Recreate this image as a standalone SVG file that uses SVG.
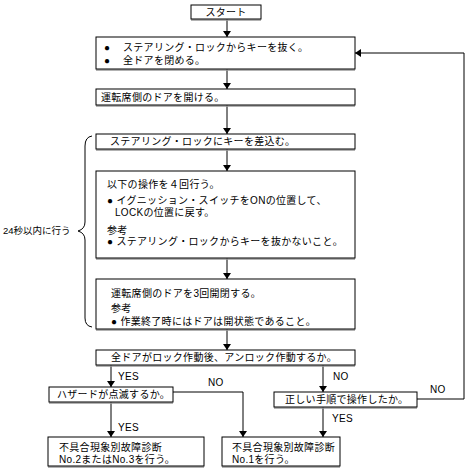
<svg xmlns="http://www.w3.org/2000/svg" width="467" height="470" viewBox="0 0 467 470">
<style>
.b{fill:#fff;stroke:#000;stroke-width:1}
.sh{stroke:#999;stroke-width:1.5;fill:none}
.t{font-family:"Liberation Sans","Noto Sans CJK JP",sans-serif;font-size:10px;fill:#000;letter-spacing:0.3px}
.l{fill:none;stroke:#000;stroke-width:1}
</style>
<defs>
<marker id="ah" viewBox="0 0 10 10" refX="10" refY="5" markerWidth="6" markerHeight="8" markerUnits="userSpaceOnUse" orient="auto" preserveAspectRatio="none">
<path d="M0,0 L10,5 L0,10 Z" fill="#000"/>
</marker>
</defs>
<rect width="467" height="470" fill="#fff"/>
<g id="connectors">
<line class="l" x1="227" y1="19" x2="227" y2="37" marker-end="url(#ah)"/>
<line class="l" x1="227" y1="69" x2="227" y2="89" marker-end="url(#ah)"/>
<line class="l" x1="227" y1="105" x2="227" y2="134" marker-end="url(#ah)"/>
<line class="l" x1="227" y1="149" x2="227" y2="171" marker-end="url(#ah)"/>
<line class="l" x1="227" y1="258" x2="227" y2="279" marker-end="url(#ah)"/>
<line class="l" x1="227" y1="329" x2="227" y2="350" marker-end="url(#ah)"/>
<line class="l" x1="111" y1="365" x2="111" y2="387" marker-end="url(#ah)"/>
<line class="l" x1="111" y1="402" x2="111" y2="437" marker-end="url(#ah)"/>
<polyline class="l" points="173,392 243,392 243,437" marker-end="url(#ah)"/>
<line class="l" x1="323" y1="365" x2="323" y2="392" marker-end="url(#ah)"/>
<line class="l" x1="323" y1="407" x2="323" y2="437" marker-end="url(#ah)"/>
<polyline class="l" points="417,399 464,399 464,53 355,53" marker-end="url(#ah)"/>
<text class="t" x="118" y="380">YES</text>
<text class="t" x="118" y="431">YES</text>
<text class="t" x="208" y="386">NO</text>
<text class="t" x="333" y="380">NO</text>
<text class="t" x="430" y="393">NO</text>
<text class="t" x="332" y="422">YES</text>
</g>
<g id="start">
<line class="sh" x1="191" y1="20" x2="261" y2="20"/>
<rect class="b" x="191" y="5" width="70" height="14"/>
<text class="t" x="226" y="15.5" text-anchor="middle">スタート</text>
</g>
<g id="n1">
<line class="sh" x1="96" y1="70" x2="355" y2="70"/>
<rect class="b" x="96" y="37" width="259" height="32"/>
<text class="t" x="104" y="50.5">●</text>
<text class="t" x="123" y="50.5">ステアリング・ロックからキーを抜く。</text>
<text class="t" x="104" y="63.5">●</text>
<text class="t" x="123" y="63.5">全ドアを閉める。</text>
</g>
<g id="n2">
<line class="sh" x1="96" y1="106" x2="355" y2="106"/>
<rect class="b" x="96" y="89" width="259" height="16"/>
<text class="t" x="101" y="100.5">運転席側のドアを開ける。</text>
</g>
<g id="n3">
<line class="sh" x1="96" y1="150" x2="355" y2="150"/>
<rect class="b" x="96" y="134" width="259" height="15"/>
<text class="t" x="110" y="145">ステアリング・ロックにキーを差込む。</text>
</g>
<g id="n4">
<line class="sh" x1="96" y1="259" x2="355" y2="259"/>
<rect class="b" x="96" y="171" width="259" height="87"/>
<text class="t" x="107" y="188">以下の操作を４回行う。</text>
<text class="t" x="107" y="203.5">● イグニッション・スイッチをONの位置して、</text>
<text class="t" x="115" y="215.5">LOCKの位置に戻す。</text>
<text class="t" x="107" y="234">参考</text>
<text class="t" x="107" y="245">● ステアリング・ロックからキーを抜かないこと。</text>
</g>
<g id="n5">
<line class="sh" x1="96" y1="330" x2="355" y2="330"/>
<rect class="b" x="96" y="279" width="259" height="50"/>
<text class="t" x="111" y="297">運転席側のドアを3回開閉する。</text>
<text class="t" x="111" y="311.5">参考</text>
<text class="t" x="111" y="324.5">● 作業終了時にはドアは開状態であること。</text>
</g>
<g id="n6">
<line class="sh" x1="96" y1="366" x2="355" y2="366"/>
<rect class="b" x="96" y="350" width="259" height="15"/>
<text class="t" x="111" y="361">全ドアがロック作動後、アンロック作動するか。</text>
</g>
<g id="n7">
<line class="sh" x1="49" y1="403" x2="173" y2="403"/>
<rect class="b" x="49" y="387" width="124" height="15"/>
<text class="t" x="57" y="398">ハザードが点滅するか。</text>
</g>
<g id="n8">
<line class="sh" x1="48" y1="467" x2="204" y2="467"/>
<rect class="b" x="48" y="437" width="156" height="29"/>
<text class="t" x="59" y="451">不具合現象別故障診断</text>
<text class="t" x="59" y="463">No.2またはNo.3を行う。</text>
</g>
<g id="n9">
<line class="sh" x1="222" y1="467" x2="340" y2="467"/>
<rect class="b" x="222" y="437" width="118" height="29"/>
<text class="t" x="232" y="451">不具合現象別故障診断</text>
<text class="t" x="232" y="463">No.1を行う。</text>
</g>
<g id="n10">
<line class="sh" x1="274" y1="408" x2="417" y2="408"/>
<rect class="b" x="274" y="392" width="143" height="15"/>
<text class="t" x="285" y="403">正しい手順で操作したか。</text>
</g>
<g id="brace">
<path class="l" d="M92,136 Q85,137 85,146 L85,222 Q85,229 78,231 Q85,233 85,240 L85,318 Q85,326 92,327"/>
<text class="t" x="3" y="234" style="font-size:9.5px;letter-spacing:0">24秒以内に行う</text>
</g>
</svg>
